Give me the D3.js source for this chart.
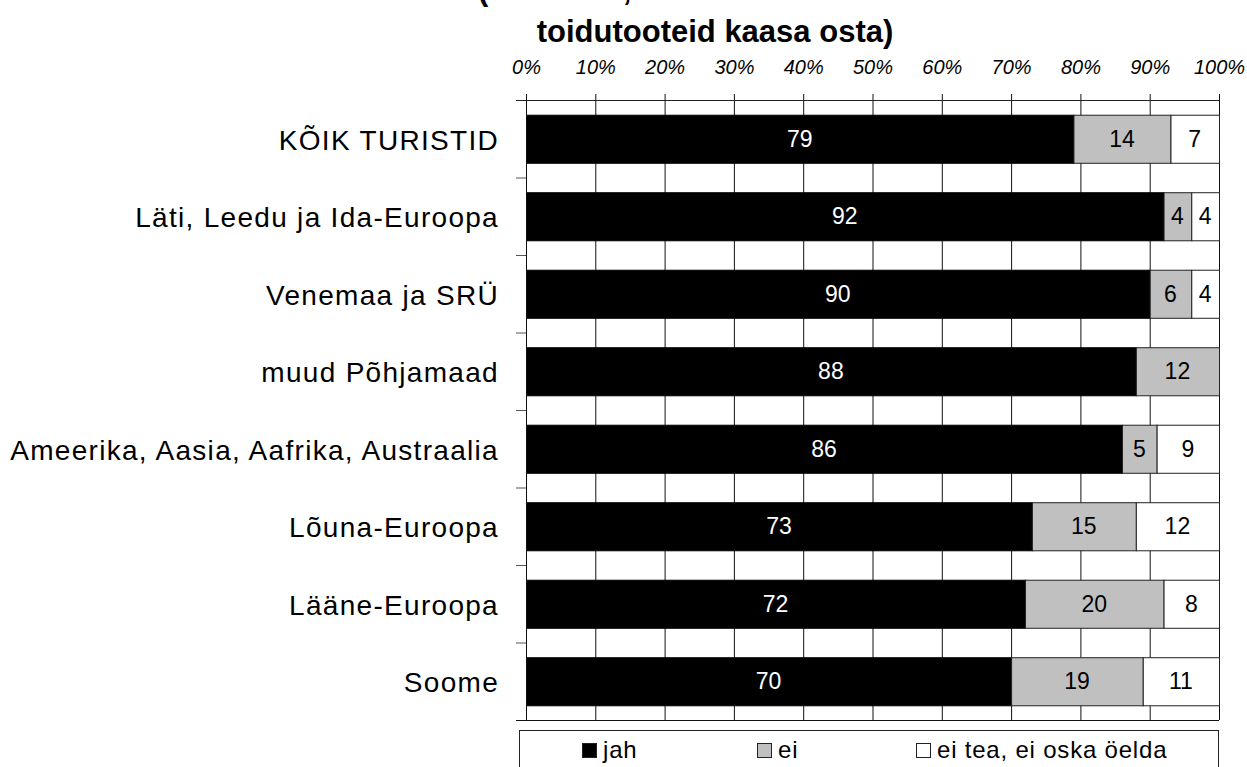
<!DOCTYPE html>
<html><head><meta charset="utf-8">
<script src="https://cdn.jsdelivr.net/npm/d3@7"></script>
<style>body{margin:0;background:#fff}svg{display:block}text{font-family:"Liberation Sans",Arial,sans-serif}</style>
</head><body>
<svg id="c" width="1247" height="767"></svg>
<script>
const categories = ["KÕIK TURISTID","Läti, Leedu ja Ida-Euroopa","Venemaa ja SRÜ","muud Põhjamaad","Ameerika, Aasia, Aafrika, Austraalia","Lõuna-Euroopa","Lääne-Euroopa","Soome"];
const jah = [79,92,90,88,86,73,72,70];
const ei = [14,4,6,12,5,15,20,19];
const eiTea = [7,4,4,0,9,12,8,11];
const seriesNames = ["jah","ei","ei tea, ei oska öelda"];
const seriesColors = ["#000000","#c0c0c0","#ffffff"];
const tickValues = [0,10,20,30,40,50,60,70,80,90,100];
const titleLines = ["(% kõikist, kes soovisid Eestist","toidutooteid kaasa osta)"];

(function(){
const svg = d3.select("#c");
const L = 526, R = 1219, T = 100, B = 720;
const x = d3.scaleLinear().domain([0,100]).range([L,R]);
const y = d3.scaleBand().domain(categories).range([T,B]).paddingInner(0.38).paddingOuter(0.19);
const yb = d3.scaleBand().domain(categories).range([T,B]);

svg.append("text").attr("x",478).attr("y",0)
  .style("font-size","31px").style("font-weight","bold").text(titleLines[0]);
svg.append("text").attr("x",715).attr("y",42).attr("text-anchor","middle")
  .style("font-size","31px").style("font-weight","bold").text(titleLines[1]);

svg.append("g").selectAll("line").data(tickValues).join("line")
  .attr("x1",d=>x(d)+0.5).attr("x2",d=>x(d)+0.5).attr("y1",T-6).attr("y2",B)
  .attr("stroke","#111").attr("stroke-width",1);

const topAxis = svg.append("g").attr("transform",`translate(0,${T+0.5})`)
  .call(d3.axisTop(x).tickValues(tickValues).tickFormat(d=>d+"%").tickSize(6).tickSizeOuter(0));
topAxis.select(".domain").remove();
topAxis.selectAll(".tick line").remove();
topAxis.selectAll("text").style("font-size","20px").style("font-style","italic")
  .style("font-family","'Liberation Sans',Arial,sans-serif").attr("y",-26.5).attr("dy",0).attr("fill","#000");
svg.append("line").attr("x1",L-10).attr("x2",R).attr("y1",T+0.5).attr("y2",T+0.5).attr("stroke","#222");
svg.append("line").attr("x1",L-10).attr("x2",R).attr("y1",B+0.5).attr("y2",B+0.5).attr("stroke","#111");

const bounds = categories.slice(1).map(c=>yb(c));
svg.append("g").selectAll("line").data(bounds).join("line")
  .attr("x1",L-10).attr("x2",L).attr("y1",d=>d+0.5).attr("y2",d=>d+0.5).attr("stroke","#555");

const rows = categories.map((c,i)=>({c, v:[jah[i],ei[i],eiTea[i]]}));
const g = svg.append("g");
rows.forEach(r=>{
  let acc = 0;
  r.v.forEach((v,k)=>{
    if(v<=0) return;
    const x0 = x(acc), x1 = x(acc+v);
    g.append("rect").attr("x",x0+0.5).attr("y",y(r.c)+0.5).attr("width",x1-x0).attr("height",y.bandwidth())
      .attr("fill",seriesColors[k]).attr("stroke",k===0?"#000":"#222").attr("stroke-width",1);
    g.append("text").attr("x",(x0+x1)/2).attr("y",y(r.c)+y.bandwidth()/2+8)
      .attr("text-anchor","middle").style("font-size","23px")
      .attr("fill",k===0?"#fff":"#000").text(v);
    acc += v;
  });
});
svg.append("line").attr("x1",L+0.5).attr("x2",L+0.5).attr("y1",T).attr("y2",B).attr("stroke","#111");

svg.append("g").selectAll("text").data(categories).join("text")
  .attr("x",499).attr("y",d=>yb(d)+yb.bandwidth()/2+11).attr("text-anchor","end")
  .style("font-size","28px").style("letter-spacing","1.3px").text(d=>d);

const lg = svg.append("g");
lg.append("rect").attr("x",519.5).attr("y",730.5).attr("width",699).attr("height",44).attr("fill","#fff").attr("stroke","#222");
const lx = [582,757,916];
seriesNames.forEach((n,k)=>{
  lg.append("rect").attr("x",lx[k]+0.5).attr("y",743.5).attr("width",14).attr("height",14)
    .attr("fill",seriesColors[k]).attr("stroke","#222");
  lg.append("text").attr("x",lx[k]+21).attr("y",758).style("font-size","24px").style("letter-spacing","0.8px").text(n);
});
})();
</script>
</body></html>
